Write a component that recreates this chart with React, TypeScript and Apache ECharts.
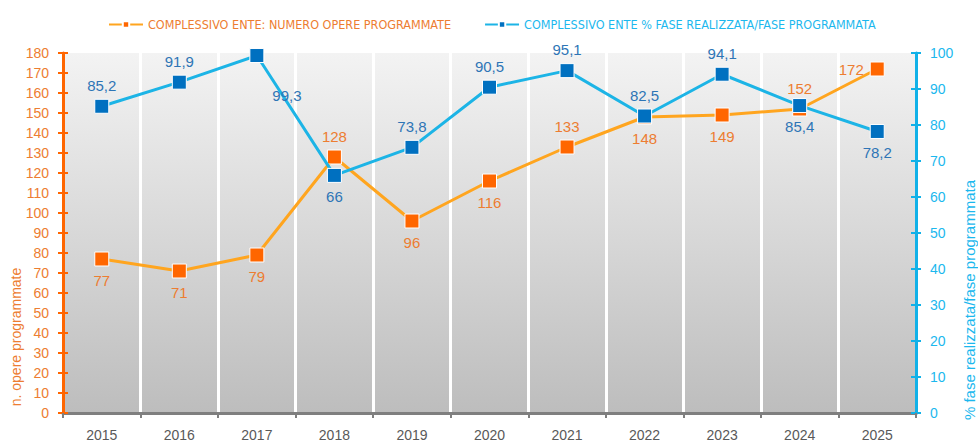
import React, { useEffect, useRef } from "react";
import * as echarts from "echarts";

const years = ["2015", "2016", "2017", "2018", "2019", "2020", "2021", "2022", "2023", "2024", "2025"];
const opereProgrammate = [77, 71, 79, 128, 96, 116, 133, 148, 149, 152, 172];
const percFase = [85.2, 91.9, 99.3, 66, 73.8, 90.5, 95.1, 82.5, 94.1, 85.4, 78.2];
const orangeLabelPos = ["bottom", "bottom", "bottom", "top", "bottom", "bottom", "top", "bottom", "bottom", "top", "left"];
const blueLabelPos = ["top", "top", "right", "bottom", "top", "top", "top", "top", "top", "bottom", "bottom"];

const name1 = "COMPLESSIVO ENTE: NUMERO OPERE PROGRAMMATE";
const name2 = "COMPLESSIVO ENTE % FASE REALIZZATA/FASE PROGRAMMATA";

const ORANGE_TXT = "#ED7D31";
const ORANGE_AX = "#FF6600";
const ORANGE_LINE = "#FFA51F";
const BLUE_TXT = "#2E75B6";
const BLUE_AX = "#11B1E8";
const BLUE_LINE = "#1CB4E6";
const BLUE_MARK = "#0070C0";
const FONT = "'Liberation Sans', Arial, sans-serif";
const NARROW = "'Liberation Sans Narrow', 'DejaVu Sans Condensed', sans-serif";

const fmt = (p: any) => String(p.value).replace(".", ",");

export default function App() {
  const ref = useRef<HTMLDivElement>(null);
  useEffect(() => {
    if (!ref.current) return;
    const chart = echarts.init(ref.current, null, { renderer: "svg" });
    const orangeData = opereProgrammate.map((v, i) => {
      const pos = orangeLabelPos[i];
      return { value: v, label: { position: pos, distance: 6 } };
    });
    const blueData = percFase.map((v, i) => {
      const pos = blueLabelPos[i];
      const lab: any = { position: pos, distance: 6 };
      if (pos === "right") {
        lab.offset = [2, 40];
      }
      return { value: v, label: lab };
    });
    const yCommonLeft = { type: "value", min: 0, max: 180, interval: 10 };
    const yCommonRight = { type: "value", min: 0, max: 100, interval: 10 };
    chart.setOption({
      animation: false,
      textStyle: { fontFamily: FONT },
      legend: {
        top: 13,
        left: 103,
        itemWidth: 34,
        itemHeight: 8,
        itemGap: 33,
        textStyle: { fontFamily: NARROW, fontSize: 12.5 },
        data: [
          { name: name1, textStyle: { color: ORANGE_TXT } },
          { name: name2, textStyle: { color: "#1CB8EE" } },
        ],
      },
      grid: {
        left: 63,
        right: 62,
        top: 53,
        bottom: 30,
        show: true,
        borderWidth: 0,
        backgroundColor: new echarts.graphic.LinearGradient(0, 0, 0, 1, [
          { offset: 0, color: "#F3F3F3" },
          { offset: 1, color: "#BDBDBD" },
        ]),
      },
      xAxis: {
        type: "category",
        data: years,
        boundaryGap: true,
        axisLine: { lineStyle: { color: "#7F7F7F", width: 3 } },
        axisTick: { show: true, length: 5, lineStyle: { color: "#7F7F7F", width: 2 } },
        splitLine: { show: true, lineStyle: { color: "#FFFFFF", width: 3 } },
        axisLabel: { color: "#595959", fontSize: 14, margin: 15, fontFamily: FONT },
      },
      yAxis: [
        {
          ...yCommonLeft,
          position: "left",
          axisLine: { show: true, lineStyle: { color: ORANGE_AX, width: 3 } },
          axisTick: { show: true, length: 5, lineStyle: { color: ORANGE_AX, width: 2 } },
          axisLabel: { color: ORANGE_TXT, fontSize: 14, margin: 14, fontFamily: FONT },
          splitLine: { show: false },
        },
        {
          ...yCommonRight,
          position: "right",
          axisLine: { show: true, lineStyle: { color: BLUE_AX, width: 3 } },
          axisTick: { show: true, length: 5, lineStyle: { color: BLUE_AX, width: 2 } },
          axisLabel: { color: "#1CB8EE", fontSize: 14, margin: 14, fontFamily: FONT },
          splitLine: { show: false },
        },
        {
          ...yCommonLeft,
          position: "left",
          axisLine: { show: false },
          axisTick: { show: true, inside: true, length: 5, lineStyle: { color: ORANGE_AX, width: 2 } },
          axisLabel: { show: false },
          splitLine: { show: false },
        },
        {
          ...yCommonRight,
          position: "right",
          axisLine: { show: false },
          axisTick: { show: true, inside: true, length: 5, lineStyle: { color: BLUE_AX, width: 2 } },
          axisLabel: { show: false },
          splitLine: { show: false },
        },
      ],
      series: [
        {
          name: name1,
          type: "line",
          yAxisIndex: 0,
          data: orangeData,
          symbol: "rect",
          symbolSize: 14,
          lineStyle: { color: ORANGE_LINE, width: 3 },
          itemStyle: { color: ORANGE_AX, borderColor: "#FFFFFF", borderWidth: 1 },
          label: { show: true, color: ORANGE_TXT, fontSize: 15, fontFamily: FONT, formatter: fmt },
          z: 3,
        },
        {
          name: name2,
          type: "line",
          yAxisIndex: 1,
          data: blueData,
          symbol: "rect",
          symbolSize: 14,
          lineStyle: { color: BLUE_LINE, width: 3 },
          itemStyle: { color: BLUE_MARK, borderColor: "#FFFFFF", borderWidth: 1 },
          label: { show: true, color: BLUE_TXT, fontSize: 15, fontFamily: FONT, formatter: fmt },
          z: 4,
        },
      ],
      graphic: [
        {
          type: "text",
          x: 16,
          y: 337,
          rotation: Math.PI / 2,
          style: {
            text: "n. opere programmate",
            fill: ORANGE_TXT,
            font: `14px ${FONT}`,
            align: "center",
            verticalAlign: "middle",
          },
        },
        {
          type: "text",
          x: 969,
          y: 300,
          rotation: Math.PI / 2,
          style: {
            text: "% fase realizzata/fase programmata",
            fill: "#1CB8EE",
            font: `15px ${FONT}`,
            align: "center",
            verticalAlign: "middle",
          },
        },
      ],
    });
    return () => chart.dispose();
  }, []);
  return (
    <div
      ref={ref}
      style={{ position: "fixed", left: 0, top: 0, width: 978, height: 443, background: "#FFFFFF" }}
    />
  );
}
